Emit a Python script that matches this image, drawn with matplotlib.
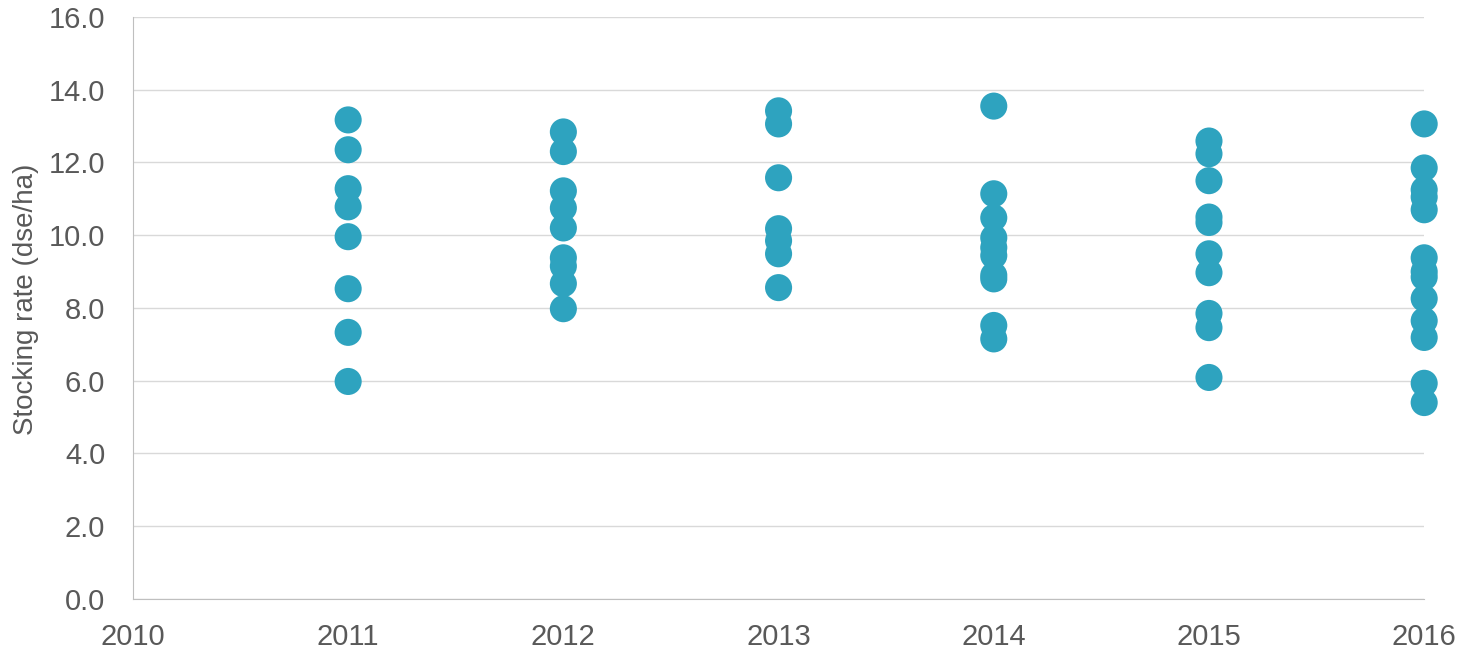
"""
Stocking rate by year, scatter.
"""

import matplotlib.pyplot as plt

years = [2011, 2012, 2013, 2014, 2015, 2016]

rates = {
    2011: [13.17, 12.35, 11.28, 10.78, 9.96, 8.53, 7.33, 5.98],
    2012: [12.84, 12.3, 11.22, 10.75, 10.2, 9.38, 9.15, 8.67, 7.98],
    2013: [13.42, 13.06, 11.58, 10.18, 9.85, 9.49, 8.56],
    2014: [13.55, 11.14, 10.48, 9.93, 9.66, 9.44, 8.9, 8.8, 7.52, 7.15],
    2015: [12.59, 12.24, 11.5, 10.5, 10.35, 9.49, 8.97, 7.85, 7.46, 6.09],
    2016: [13.06, 11.85, 11.25, 11.05, 10.7, 9.38, 9.0, 8.85, 8.26, 7.65, 7.19, 5.93, 5.4],
}

y_ticks = [0, 2, 4, 6, 8, 10, 12, 14, 16]
x_ticks = [2010, 2011, 2012, 2013, 2014, 2015, 2016]


def main():
    plt.rcParams['font.family'] = ['Liberation Sans', 'DejaVu Sans']
    fig = plt.figure(figsize=(14.61, 6.53), dpi=100)
    ax = fig.add_axes([0.091, 0.0827, 0.8838, 0.8913])

    xs, ys = [], []
    for yr in years:
        for v in rates[yr]:
            xs.append(yr)
            ys.append(v)
    ax.scatter(xs, ys, s=380, color='#2ea3bf', edgecolors='none',
               zorder=3, clip_on=False)

    ax.set_xlim(2010, 2016)
    ax.set_ylim(0, 16)
    ax.set_xticks(x_ticks)
    ax.set_yticks(y_ticks)
    ax.set_yticklabels(['%.1f' % t for t in y_ticks])
    ax.tick_params(length=0, labelsize=21, colors='#595959')
    ax.tick_params(axis='y', pad=20)
    ax.tick_params(axis='x', pad=17)
    ax.yaxis.grid(True, color='#d9d9d9', linewidth=1)
    ax.set_axisbelow(True)
    for side in ['top', 'right']:
        ax.spines[side].set_visible(False)
    for side in ['left', 'bottom']:
        ax.spines[side].set_color('#bfbfbf')
    ax.set_ylabel('Stocking rate (dse/ha)', fontsize=20, color='#595959')
    ax.yaxis.set_label_coords(-0.073, 0.515)

    fig.savefig('out.png', dpi=100)


if __name__ == '__main__':
    main()
